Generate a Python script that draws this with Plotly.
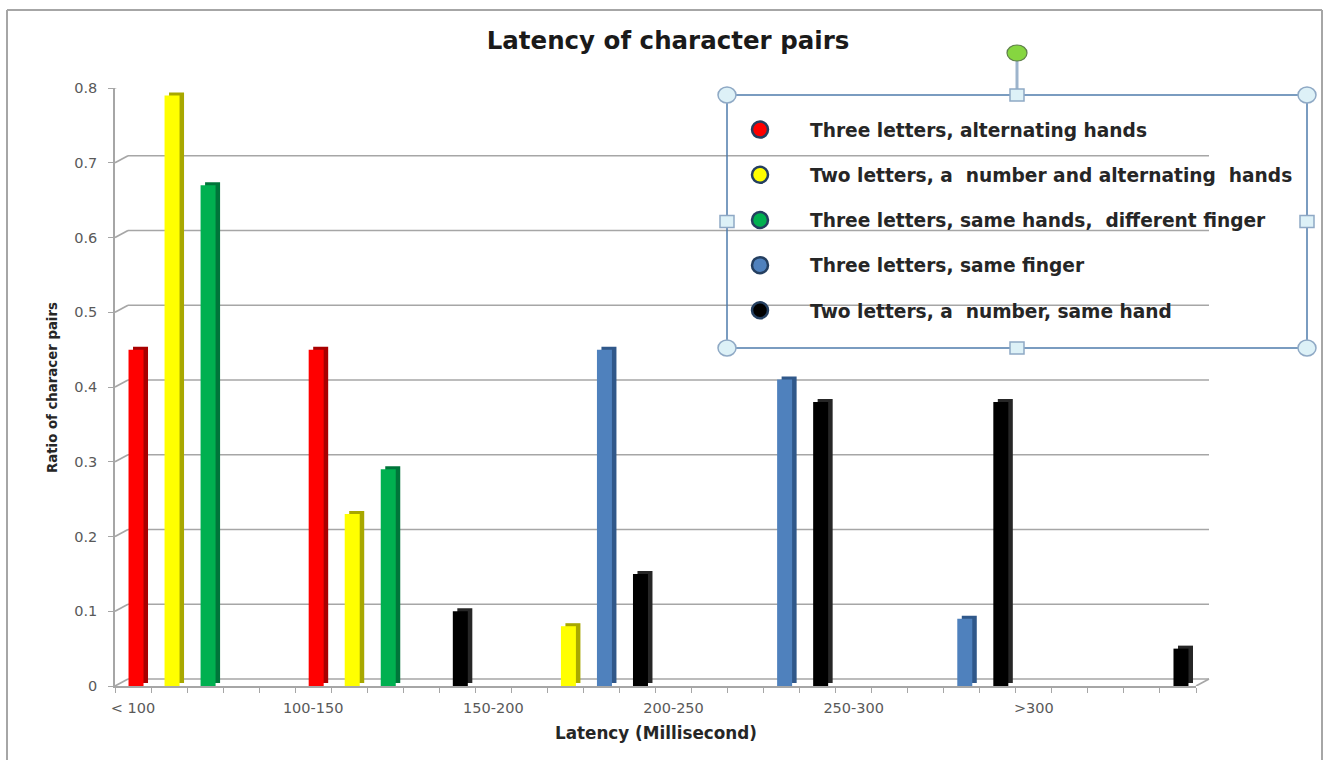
import plotly.graph_objects as go

# ---------------- data ----------------
categories = ["< 100", "100-150", "150-200", "200-250", "250-300", ">300"]
series_names = [
    "Three letters, alternating hands",
    "Two letters, a  number and alternating  hands",
    "Three letters, same hands,  different finger",
    "Three letters, same finger",
    "Two letters, a  number, same hand",
]
series_colors = ["#FF0000", "#FFFF00", "#00B050", "#4F81BD", "#000000"]
side_colors = ["#A80000", "#A8A800", "#00753A", "#30588A", "#262626"]

# each latency band has five sub-slots; a sub-slot holds (series index, ratio)
band_series = [
    [0, 1, 2, None, None],
    [0, 1, 2, None, 4],
    [None, None, 1, 3, 4],
    [None, None, None, 3, 4],
    [None, None, None, 3, 4],
    [None, None, None, None, 4],
]
band_values = [
    [0.45, 0.79, 0.67, 0, 0],
    [0.45, 0.23, 0.29, 0, 0.10],
    [0, 0, 0.08, 0.45, 0.15],
    [0, 0, 0, 0.41, 0.38],
    [0, 0, 0, 0.09, 0.38],
    [0, 0, 0, 0, 0.05],
]
y_ticks = [0, 0.1, 0.2, 0.3, 0.4, 0.5, 0.6, 0.7, 0.8]

# ---------------- layout geometry (pixels) ----------------
W, H = 1331, 760
AX_L, AX_R = 115, 1196      # front x axis
AX_B, AX_T = 686, 88        # y=0 and y=0.8
DX, DY = 13, 7              # depth offset of back wall
SLOTS = 5
nslots = SLOTS * len(categories)


def px(x):
    return x / W


def py(y):
    return 1 - y / H


slot_px = (AX_R - AX_L) / nslots
unit_px = (AX_B - AX_T) / 0.8
bar_w = 15 / slot_px
shift = 3 / slot_px
side_dx = 4.5 / slot_px
side_dy = 3 / unit_px

xs = [[] for _ in series_names]
ys = [[] for _ in series_names]
for b, (sers, vals) in enumerate(zip(band_series, band_values)):
    for j, (s, v) in enumerate(zip(sers, vals)):
        if s is None:
            continue
        xs[s].append(b * SLOTS + j)
        ys[s].append(v)

fig = go.Figure()
for i in range(len(series_names)):
    # side / top face (depth)
    fig.add_trace(go.Bar(
        x=xs[i], y=ys[i], base=side_dy, width=bar_w,
        offset=-bar_w / 2 + shift + side_dx,
        marker=dict(color=side_colors[i], line=dict(width=0)),
        showlegend=False, hoverinfo="skip"))
    # front face
    fig.add_trace(go.Bar(
        x=xs[i], y=ys[i], width=bar_w, offset=-bar_w / 2 + shift,
        marker=dict(color=series_colors[i], line=dict(width=0)),
        name=series_names[i], showlegend=False))

# legend entries (circle symbols)
for i, name in enumerate(series_names):
    fig.add_trace(go.Scatter(
        x=[None], y=[None], mode="markers", name="<b>" + name + "</b>",
        legendgroup=str(i),
        marker=dict(symbol="circle", size=16, color=series_colors[i],
                    line=dict(color="#243F60", width=2.5))))

shapes = []
grid_col = "#A6A6A6"
for v in y_ticks:
    shapes.append(dict(type="line", layer="below", xref="paper", yref="y",
                       ysizemode="pixel", yanchor=v,
                       x0=px(AX_L + DX), x1=px(AX_R + DX), y0=DY, y1=DY,
                       line=dict(color=grid_col, width=1.7)))
    shapes.append(dict(type="line", layer="below", xref="paper", yref="y",
                       ysizemode="pixel", yanchor=v,
                       x0=px(AX_L), x1=px(AX_L + DX), y0=0, y1=DY,
                       line=dict(color=grid_col, width=1.7)))
shapes.append(dict(type="line", layer="below", xref="paper", yref="y",
                   ysizemode="pixel", yanchor=0,
                   x0=px(AX_R), x1=px(AX_R + DX), y0=0, y1=DY,
                   line=dict(color=grid_col, width=1.7)))

# outer chart border
border = "#A6A6A6"
shapes += [
    dict(type="line", xref="paper", yref="paper", x0=px(7), x1=px(1322),
         y0=py(10), y1=py(10), line=dict(color=border, width=2)),
    dict(type="line", xref="paper", yref="paper", x0=px(7), x1=px(7),
         y0=py(10), y1=0, line=dict(color=border, width=2)),
    dict(type="line", xref="paper", yref="paper", x0=px(1322), x1=px(1322),
         y0=py(10), y1=0, line=dict(color=border, width=2)),
]

# legend text box with selection handles
LB_L, LB_R, LB_T, LB_B = 727, 1307, 95, 348
box_col = "#4F7CAC"
handle_fill = "#DDF1F7"
handle_line = "#8FA9C5"
shapes.append(dict(type="rect", xref="paper", yref="paper",
                   x0=px(LB_L), x1=px(LB_R), y0=py(LB_T), y1=py(LB_B),
                   line=dict(color=box_col, width=1.5)))
mid_x = (LB_L + LB_R) / 2
mid_y = (LB_T + LB_B) / 2
shapes.append(dict(type="line", xref="paper", yref="paper",
                   x0=px(mid_x), x1=px(mid_x), y0=py(60), y1=py(LB_T),
                   line=dict(color="#9DB4CC", width=3)))
for cx, cy in [(LB_L, LB_T), (LB_R, LB_T), (LB_L, LB_B), (LB_R, LB_B)]:
    shapes.append(dict(type="circle", xref="paper", yref="paper",
                       x0=px(cx - 9), x1=px(cx + 9), y0=py(cy - 8), y1=py(cy + 8),
                       fillcolor=handle_fill, line=dict(color=handle_line, width=1.5)))
for cx, cy in [(mid_x, LB_T), (mid_x, LB_B), (LB_L, mid_y), (LB_R, mid_y)]:
    shapes.append(dict(type="rect", xref="paper", yref="paper",
                       x0=px(cx - 7), x1=px(cx + 7), y0=py(cy - 6), y1=py(cy + 6),
                       fillcolor=handle_fill, line=dict(color=handle_line, width=1.5)))
shapes.append(dict(type="circle", xref="paper", yref="paper",
                   x0=px(mid_x - 10), x1=px(mid_x + 10), y0=py(45), y1=py(61),
                   fillcolor="#86D640", line=dict(color="#5E7F4A", width=1.2)))

FONT = "DejaVu Sans, Verdana, sans-serif"
tick_font = dict(family=FONT, size=14.5, color="#595959")
fig.update_layout(
    width=W, height=H,
    margin=dict(l=0, r=0, t=0, b=0),
    paper_bgcolor="white", plot_bgcolor="rgba(0,0,0,0)",
    barmode="overlay",
    title=dict(text="<b>Latency of character pairs</b>",
               x=px(668), y=py(40), xanchor="center", yanchor="middle",
               font=dict(family=FONT, size=24.5, color="#1A1A1A")),
    xaxis=dict(domain=[px(AX_L), px(AX_R)], range=[-0.5, nslots - 0.5],
               tickmode="array", tickvals=[b * SLOTS for b in range(len(categories))],
               ticktext=categories, ticks="", showgrid=False, zeroline=False,
               showline=True, linecolor=grid_col, linewidth=1.7,
               tickfont=tick_font, ticklabelstandoff=8, automargin=False,
               minor=dict(tickmode="linear", tick0=-0.5, dtick=1, ticks="outside",
                          ticklen=5, tickcolor=grid_col, tickwidth=1.4, showgrid=False),
               fixedrange=True),
    yaxis=dict(domain=[py(AX_B), py(AX_T)], range=[0, 0.8],
               tickmode="array", tickvals=y_ticks,
               ticktext=[("%g" % v) for v in y_ticks],
               ticks="outside", ticklen=5, tickcolor=grid_col, tickwidth=1.4,
               showgrid=False, zeroline=False, showline=True,
               linecolor=grid_col, linewidth=1.7, tickfont=tick_font,
               ticklabelstandoff=8, automargin=False, fixedrange=True),
    shapes=shapes,
    annotations=[
        dict(text="<b>Latency (Millisecond)</b>", xref="paper", yref="paper",
             x=px(656), y=py(733), xanchor="center", yanchor="middle",
             showarrow=False,
             font=dict(family=FONT, size=16.8, color="#262626")),
        dict(text="<b>Ratio of characer pairs</b>", xref="paper", yref="paper",
             x=px(52), y=py(388), xanchor="center", yanchor="middle",
             showarrow=False, textangle=-90,
             font=dict(family=FONT, size=13.3, color="#262626")),
    ],
    legend=dict(x=px(710), y=py(111), xanchor="left", yanchor="top",
                bgcolor="rgba(0,0,0,0)", borderwidth=0,
                font=dict(family=FONT, size=18.6, color="#262626"),
                tracegroupgap=18, itemwidth=90, itemclick=False,
                itemdoubleclick=False),
    showlegend=True,
)

fig.write_html("out.html")
